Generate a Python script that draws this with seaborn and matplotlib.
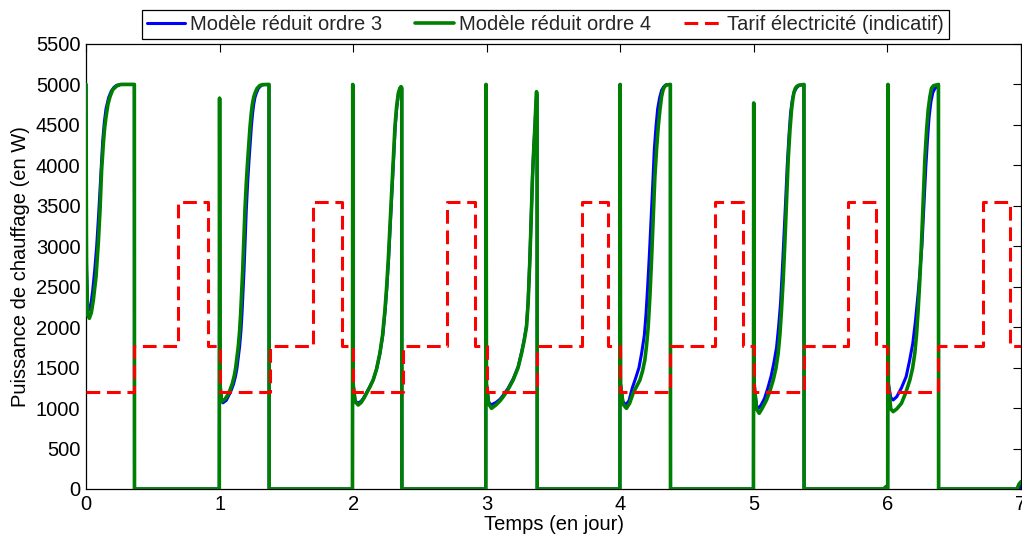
import numpy as np
import pandas as pd
import matplotlib
matplotlib.use("Agg")
import matplotlib.pyplot as plt
import seaborn as sns

# ---------------- data ----------------
# Modèle réduit ordre 4 (green)
g0_t = [0.0, 0.004, 0.012, 0.025, 0.040, 0.055, 0.075, 0.092, 0.105, 0.117, 0.130, 0.140, 0.150, 0.165, 0.180, 0.200, 0.230, 0.260, 0.362, 0.363]
g0_p = [5000, 2700, 2150, 2110, 2180, 2336, 2624, 3037, 3449, 3943, 4273, 4470, 4602, 4760, 4850, 4935, 4981, 5000, 5000, 0]
g1_t = [0.998, 1.000, 1.003, 1.015, 1.040, 1.060, 1.078, 1.095, 1.110, 1.120, 1.128, 1.140, 1.150, 1.158, 1.165, 1.173, 1.180, 1.190, 1.200, 1.210, 1.220, 1.228, 1.237, 1.245, 1.255, 1.265, 1.280, 1.300, 1.320, 1.370, 1.371]
g1_p = [0, 4830, 1300, 1079, 1110, 1160, 1224, 1300, 1400, 1490, 1595, 1760, 1950, 2170, 2419, 2700, 3000, 3449, 3780, 4050, 4290, 4478, 4640, 4750, 4840, 4891, 4950, 4985, 4998, 5000, 0]
g2_t = [1.995, 1.997, 2.000, 2.015, 2.038, 2.060, 2.080, 2.100, 2.125, 2.150, 2.175, 2.200, 2.220, 2.238, 2.250, 2.263, 2.275, 2.288, 2.300, 2.313, 2.325, 2.338, 2.350, 2.358, 2.364, 2.365]
g2_p = [0, 5000, 1300, 1080, 1038, 1070, 1120, 1183, 1260, 1347, 1480, 1677, 1900, 2212, 2480, 2831, 3230, 3655, 4080, 4478, 4720, 4891, 4955, 4973, 4960, 0]
g3_t = [2.993, 2.995, 2.998, 3.015, 3.036, 3.070, 3.100, 3.124, 3.160, 3.198, 3.235, 3.261, 3.280, 3.298, 3.310, 3.323, 3.333, 3.343, 3.352, 3.361, 3.368, 3.373, 3.377, 3.378]
g3_p = [0, 5000, 1300, 1050, 997, 1040, 1090, 1141, 1230, 1347, 1500, 1677, 1830, 2006, 2300, 2831, 3350, 3861, 4200, 4478, 4750, 4911, 4850, 0]
g4_t = [3.997, 3.999, 4.002, 4.020, 4.046, 4.070, 4.096, 4.120, 4.147, 4.167, 4.184, 4.197, 4.209, 4.222, 4.234, 4.247, 4.259, 4.272, 4.284, 4.297, 4.309, 4.320, 4.330, 4.346, 4.375, 4.376]
g4_p = [0, 5000, 1300, 1050, 997, 1060, 1183, 1260, 1347, 1460, 1595, 1780, 2006, 2390, 2831, 3350, 3861, 4210, 4478, 4690, 4850, 4930, 4970, 4994, 5000, 0]
g5_t = [4.997, 4.999, 5.002, 5.020, 5.040, 5.060, 5.095, 5.120, 5.145, 5.165, 5.182, 5.195, 5.207, 5.220, 5.232, 5.245, 5.257, 5.270, 5.282, 5.292, 5.300, 5.310, 5.319, 5.335, 5.356, 5.375, 5.376]
g5_p = [0, 4770, 1300, 990, 936, 990, 1100, 1210, 1347, 1490, 1677, 1910, 2212, 2600, 3037, 3560, 4067, 4430, 4685, 4820, 4900, 4950, 4973, 4990, 4994, 5000, 0]
g6_t = [5.970, 5.990, 6.002, 6.004, 6.007, 6.025, 6.043, 6.070, 6.105, 6.135, 6.168, 6.188, 6.205, 6.218, 6.230, 6.243, 6.255, 6.268, 6.280, 6.293, 6.305, 6.318, 6.330, 6.345, 6.367, 6.382, 6.383, 6.970, 6.985, 7.000]
g6_p = [0, 30, 0, 5000, 1300, 990, 956, 990, 1059, 1180, 1347, 1490, 1677, 1910, 2212, 2600, 3037, 3560, 4067, 4430, 4685, 4850, 4953, 4985, 4994, 5000, 0, 0, 60, 90]

# Modèle réduit ordre 3 (blue)
b0_t = [0.0, 0.004, 0.012, 0.025, 0.038, 0.050, 0.065, 0.080, 0.095, 0.105, 0.115, 0.125, 0.137, 0.150, 0.170, 0.190, 0.210, 0.230, 0.260, 0.362, 0.363]
b0_p = [5000, 2800, 2250, 2212, 2300, 2450, 2700, 3000, 3400, 3700, 4000, 4300, 4530, 4700, 4840, 4920, 4965, 4990, 5000, 5000, 0]
b1_t = [0.998, 1.000, 1.003, 1.015, 1.025, 1.050, 1.070, 1.088, 1.105, 1.120, 1.130, 1.138, 1.150, 1.160, 1.168, 1.175, 1.183, 1.190, 1.200, 1.210, 1.220, 1.230, 1.238, 1.247, 1.255, 1.265, 1.275, 1.290, 1.310, 1.330, 1.370, 1.371]
b1_p = [0, 4830, 1300, 1100, 1065, 1095, 1160, 1224, 1300, 1400, 1490, 1595, 1760, 1950, 2170, 2419, 2700, 3000, 3449, 3780, 4050, 4290, 4478, 4640, 4750, 4840, 4891, 4950, 4985, 4998, 5000, 0]
b2_t = [1.995, 1.997, 2.000, 2.015, 2.035, 2.060, 2.080, 2.100, 2.125, 2.150, 2.175, 2.200, 2.222, 2.240, 2.252, 2.265, 2.277, 2.290, 2.302, 2.315, 2.327, 2.340, 2.352, 2.358, 2.364, 2.365]
b2_p = [0, 5000, 1300, 1090, 1060, 1085, 1130, 1190, 1265, 1350, 1480, 1670, 1900, 2212, 2480, 2831, 3230, 3655, 4080, 4478, 4720, 4891, 4940, 4960, 4950, 0]
b3_t = [2.993, 2.995, 2.998, 3.015, 3.034, 3.070, 3.100, 3.124, 3.160, 3.198, 3.235, 3.261, 3.280, 3.298, 3.310, 3.323, 3.333, 3.343, 3.352, 3.361, 3.368, 3.373, 3.377, 3.378]
b3_p = [0, 5000, 1300, 1070, 1040, 1070, 1110, 1160, 1245, 1360, 1510, 1690, 1840, 2020, 2320, 2850, 3370, 3880, 4210, 4480, 4740, 4900, 4850, 0]
b4_t = [3.997, 3.999, 4.002, 4.020, 4.040, 4.065, 4.090, 4.115, 4.140, 4.160, 4.180, 4.193, 4.205, 4.218, 4.230, 4.243, 4.255, 4.268, 4.280, 4.295, 4.310, 4.325, 4.340, 4.375, 4.376]
b4_p = [0, 5000, 1300, 1080, 1040, 1090, 1250, 1370, 1500, 1680, 1900, 2170, 2500, 2900, 3300, 3760, 4200, 4490, 4700, 4840, 4930, 4970, 4994, 5000, 0]
b5_t = [4.997, 4.999, 5.002, 5.020, 5.035, 5.055, 5.080, 5.105, 5.130, 5.150, 5.170, 5.185, 5.200, 5.213, 5.225, 5.238, 5.250, 5.263, 5.275, 5.288, 5.300, 5.320, 5.340, 5.375, 5.376]
b5_p = [0, 4770, 1300, 1030, 997, 1040, 1120, 1250, 1400, 1560, 1750, 2000, 2300, 2700, 3100, 3560, 4000, 4370, 4650, 4810, 4900, 4960, 4990, 5000, 0]
b6_t = [5.985, 5.995, 6.002, 6.004, 6.007, 6.025, 6.043, 6.070, 6.105, 6.140, 6.165, 6.190, 6.210, 6.230, 6.244, 6.258, 6.273, 6.288, 6.300, 6.312, 6.326, 6.340, 6.355, 6.372, 6.382, 6.383, 6.985, 7.000]
b6_p = [0, 20, 0, 5000, 1300, 1130, 1100, 1141, 1250, 1388, 1580, 1801, 2080, 2419, 2700, 3000, 3500, 4000, 4320, 4600, 4790, 4900, 4950, 4980, 5000, 0, 0, 40]

# Tarif électricité (indicatif): breakpoints (held until next breakpoint)
tarif_t = [0.0, 0.362, 0.689, 0.910, 1.0, 1.375, 1.700, 1.914, 2.0, 2.370, 2.700, 2.912,
           3.0, 3.378, 3.710, 3.910, 4.0, 4.372, 4.708, 4.920, 5.0, 5.377, 5.706, 5.918,
           6.0, 6.380, 6.716, 6.916, 7.0]
tarif_p = [1200, 1770, 3550, 1770, 1200, 1770, 3550, 1770, 1200, 1770, 3550, 1770,
           1200, 1770, 3550, 1770, 1200, 1770, 3550, 1770, 1200, 1770, 3550, 1770,
           1200, 1770, 3550, 1770, 1770]

labels = ["Modèle réduit ordre 3", "Modèle réduit ordre 4", "Tarif électricité (indicatif)"]
x_ticks = [0, 1, 2, 3, 4, 5, 6, 7]
y_ticks = list(range(0, 5501, 500))

# ---------------- build frames ----------------
ordre3 = pd.DataFrame({"t": b0_t + b1_t + b2_t + b3_t + b4_t + b5_t + b6_t,
                       "p": b0_p + b1_p + b2_p + b3_p + b4_p + b5_p + b6_p})
ordre4 = pd.DataFrame({"t": g0_t + g1_t + g2_t + g3_t + g4_t + g5_t + g6_t,
                       "p": g0_p + g1_p + g2_p + g3_p + g4_p + g5_p + g6_p})
tarif = pd.DataFrame({"t": tarif_t, "p": tarif_p})

# ---------------- style ----------------
sns.set_theme(style="white")
plt.rcParams["font.family"] = ["Liberation Sans", "DejaVu Sans"]
FS = 14.5

fig = plt.figure(figsize=(10.22, 5.38), dpi=100)
ax = fig.add_axes([86 / 1022, 1 - 489 / 538, (1021 - 86) / 1022, (489 - 44) / 538])

sns.lineplot(data=ordre3, x="t", y="p", ax=ax, sort=False, estimator=None,
             color="#0000ff", linewidth=2.2, label=labels[0], zorder=2)
sns.lineplot(data=ordre4, x="t", y="p", ax=ax, sort=False, estimator=None,
             color="#008000", linewidth=2.6, label=labels[1], zorder=3)
sns.lineplot(data=tarif, x="t", y="p", ax=ax, sort=False, estimator=None,
             color="#ff0000", linewidth=2.2, linestyle=(0, (4.5, 2.2)),
             drawstyle="steps-post", label=labels[2], zorder=4)

ax.set_xlim(0, 7)
ax.set_ylim(0, 5500)
ax.set_xticks(x_ticks)
ax.set_yticks(y_ticks)
ax.set_xticklabels([str(v) for v in x_ticks], fontsize=FS)
ax.set_yticklabels([str(v) for v in y_ticks], fontsize=FS)
ax.tick_params(direction="in", top=True, right=True, length=6, width=0.8,
               colors="black", pad=4)
for s in ax.spines.values():
    s.set_color("black")
    s.set_linewidth(0.9)
ax.set_xlabel("Temps (en jour)", fontsize=FS, color="black", labelpad=1)
ax.set_ylabel("Puissance de chauffage (en W)", fontsize=FS, color="black", labelpad=4)

handles, labs = ax.get_legend_handles_labels()
leg = ax.legend(handles, labs, loc="center", bbox_to_anchor=(545.5 / 1022, 1 - 24.5 / 538),
                bbox_transform=fig.transFigure, ncol=3, fontsize=FS, frameon=True,
                fancybox=False, edgecolor="black", framealpha=1, borderpad=0.25,
                handlelength=1.9, handletextpad=0.25, columnspacing=1.65,
                borderaxespad=0)
leg.get_frame().set_linewidth(0.9)

fig.savefig("out.png", dpi=100)
